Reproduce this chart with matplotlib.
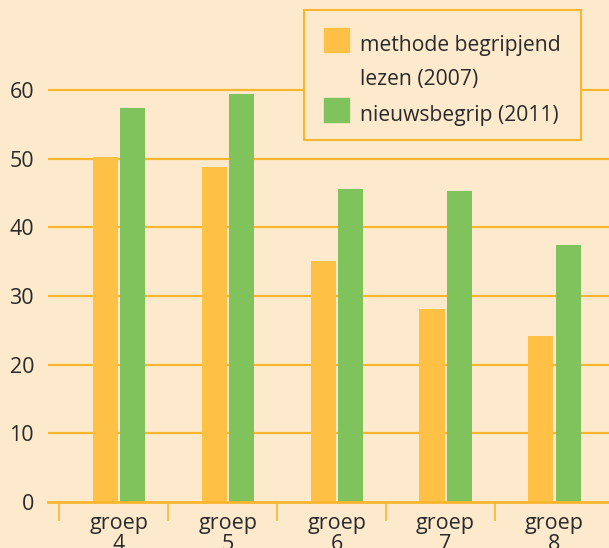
import numpy as np
import matplotlib
matplotlib.use("Agg")
import matplotlib.pyplot as plt
from matplotlib.patches import Rectangle

groups = ["groep\n4", "groep\n5", "groep\n6", "groep\n7", "groep\n8"]
methode_2007 = [50.2, 48.8, 35.1, 28.1, 24.2]
nieuwsbegrip_2011 = [57.4, 59.4, 45.6, 45.3, 37.4]
yticks = [0, 10, 20, 30, 40, 50, 60]

bg = "#FDEACD"
orange = "#FFC145"
green = "#80C35C"
line = "#F9B52E"
txt = "#2a2a2a"

plt.rcParams["font.family"] = ["Open Sans", "DejaVu Sans"]

fig = plt.figure(figsize=(6.09, 5.48), dpi=100, facecolor=bg)
ax = fig.add_axes([48 / 609, 1 - 502 / 548, 1 - 48 / 609, 502 / 548])
ax.set_facecolor(bg)

x = np.arange(len(groups))
w = 0.23
ax.bar(x - w / 2 - 0.01, methode_2007, w, color=orange, zorder=3)
ax.bar(x + w / 2 + 0.01, nieuwsbegrip_2011, w, color=green, zorder=3)

ax.set_xlim(-0.65, 4.5)
ax.set_ylim(0, 73.1)

for y in yticks[1:]:
    ax.axhline(y, color=line, lw=1.6, zorder=1)

for s in ["top", "left", "right"]:
    ax.spines[s].set_visible(False)
ax.spines["bottom"].set_color(line)
ax.spines["bottom"].set_linewidth(2)
ax.spines["bottom"].set_zorder(4)

ax.set_yticks(yticks)
ax.set_yticklabels([str(v) for v in yticks], fontsize=15.5, color=txt)
ax.tick_params(axis="y", length=0, pad=10)

# separator ticks between groups
ax.set_xticks(np.arange(len(groups)) - 0.55, minor=True)
ax.tick_params(axis="x", which="minor", length=14, width=1.2, color=line)
ax.set_xticks(x)
ax.set_xticklabels(groups, fontsize=15.5, color=txt, linespacing=1.0)
ax.tick_params(axis="x", which="major", length=0, pad=8)

# legend box drawn in figure pixels
def fx(px):
    return px / 609

def fy(py):
    return 1 - py / 548

fig.add_artist(Rectangle((fx(304), fy(140)), fx(277), 130 / 548,
                         transform=fig.transFigure, facecolor=bg,
                         edgecolor=line, lw=1.5, zorder=10))
fig.add_artist(Rectangle((fx(324), fy(52)), fx(25), 24 / 548,
                         transform=fig.transFigure, color=orange, zorder=11))
fig.add_artist(Rectangle((fx(324), fy(122)), fx(25), 24 / 548,
                         transform=fig.transFigure, color=green, zorder=11))
for py, s in [(45, "methode begripjend"), (80, "lezen (2007)"),
              (115, "nieuwsbegrip (2011)")]:
    fig.text(fx(360), fy(py), s, fontsize=15.2, color=txt,
             va="center", zorder=12)

plt.savefig("out.png", dpi=100, facecolor=bg)
